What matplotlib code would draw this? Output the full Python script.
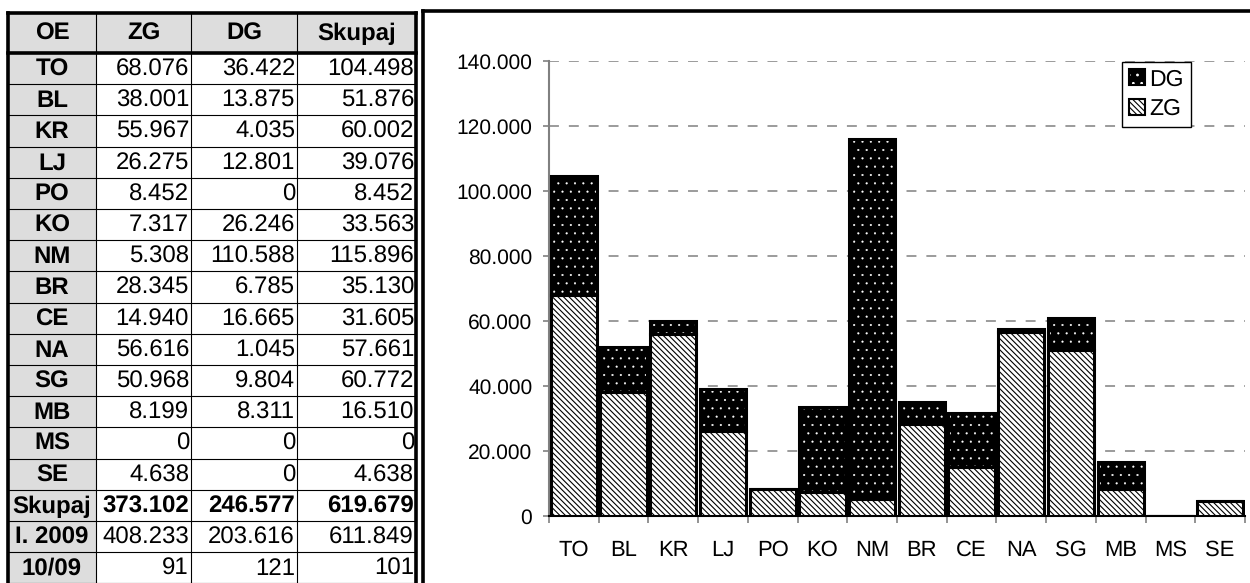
import numpy as np
import matplotlib.pyplot as plt
from matplotlib.patches import Rectangle, Patch
from matplotlib.legend_handler import HandlerTuple

plt.rcParams['font.family'] = ['Liberation Sans', 'DejaVu Sans']
plt.rcParams['hatch.linewidth'] = 0.8
plt.rcParams['text.hinting'] = 'no_hinting'
plt.rcParams['text.hinting_factor'] = 1

# ---------------- data ----------------
oe = ['TO', 'BL', 'KR', 'LJ', 'PO', 'KO', 'NM', 'BR', 'CE', 'NA', 'SG', 'MB', 'MS', 'SE']
zg = [68076, 38001, 55967, 26275, 8452, 7317, 5308, 28345, 14940, 56616, 50968, 8199, 0, 4638]
dg = [36422, 13875, 4035, 12801, 0, 26246, 110588, 6785, 16665, 1045, 9804, 8311, 0, 0]
prev_year = [408233, 203616, 611849]   # I. 2009
header = ['OE', 'ZG', 'DG', 'Skupaj']
yticks = [0, 20000, 40000, 60000, 80000, 100000, 120000, 140000]


def fmt(v):
    return f'{v:,}'.replace(',', '.')


skupaj = [z + d for z, d in zip(zg, dg)]
tot = [sum(zg), sum(dg), sum(skupaj)]
idx = [round(t / p * 100) for t, p in zip(tot, prev_year)]

rows = [[n, fmt(z), fmt(d), fmt(s)] for n, z, d, s in zip(oe, zg, dg, skupaj)]
rows.append(['Skupaj'] + [fmt(t) for t in tot])
rows.append(['I. 2009'] + [fmt(p) for p in prev_year])
rows.append(['10/09'] + [str(i) for i in idx])
bold_rows = [len(oe)]

fig = plt.figure(figsize=(12.5, 5.83), dpi=100)

# ---------------- table (pixel grid) ----------------
tab = fig.add_axes([0, 0, 1, 1])
tab.set_xlim(0, 1250)
tab.set_ylim(583, 0)
tab.axis('off')

col_x = [8, 96, 191, 297, 416]
top, head_h, row_h = 13, 40, 31.2
grey = '#dddddd'
fs_tab = 17.5

tab.add_patch(Rectangle((col_x[0], top), col_x[-1] - col_x[0], head_h, fc=grey, ec='none'))
tab.add_patch(Rectangle((col_x[0], top), col_x[1] - col_x[0], 600, fc=grey, ec='none'))

for j, h in enumerate(header):
    tab.text((col_x[j] + col_x[j + 1]) / 2, top + head_h / 2 + 1, h, ha='center', va='center',
             fontsize=fs_tab, fontweight='bold')

for i, r in enumerate(rows):
    yc = top + head_h + (i + 0.5) * row_h + 1
    wt = 'bold' if i in bold_rows else 'normal'
    tab.text((col_x[0] + col_x[1]) / 2, yc, r[0], ha='center', va='center',
             fontsize=fs_tab, fontweight='bold')
    for j in range(1, 4):
        tab.text(col_x[j + 1] - 2, yc, r[j], ha='right', va='center',
                 fontsize=fs_tab, fontweight=wt)
    yl = top + head_h + (i + 1) * row_h
    tab.plot([col_x[0], col_x[-1]], [yl, yl], color='black', lw=0.8)

for cx in col_x[1:-1]:
    tab.plot([cx, cx], [top, 600], color='black', lw=0.8)

# thick borders
tab.plot([col_x[0], col_x[0]], [top, 600], color='black', lw=2.6)
tab.plot([col_x[-1], col_x[-1]], [top, 600], color='black', lw=2.6)
tab.plot([col_x[0], col_x[-1]], [top, top], color='black', lw=2.6)
tab.plot([col_x[0], col_x[-1]], [top + head_h, top + head_h], color='black', lw=2.6)

# chart panel frame
tab.plot([423, 423], [11, 600], color='black', lw=2.6)
tab.plot([423, 1260], [11, 11], color='black', lw=2.6)

# ---------------- chart ----------------
ax = fig.add_axes([549 / 1250, (583 - 516) / 583, 696 / 1250, 455 / 583])
ax.patch.set_alpha(0)
x = np.arange(len(oe))
w = 0.93
zg_hatch = '\\' * 6

ax.bar(x, zg, w, color='white', edgecolor='black', hatch=zg_hatch, lw=2.2, zorder=3)
dots = ax.bar(x, dg, w, bottom=zg, color='black', edgecolor='white', hatch='..', lw=0, zorder=3)
ax.bar(x, dg, w, bottom=zg, fill=False, edgecolor='black', lw=2.2, zorder=4)
for p in dots:
    if hasattr(p, 'set_hatch_linewidth'):
        p.set_hatch_linewidth(0.3)

ax.set_xlim(-0.5, len(oe) - 0.5)
ax.set_ylim(0, 140000)
ax.set_yticks(yticks)
ax.set_yticklabels([fmt(v) for v in yticks])
ax.set_xticks(x)
ax.set_xticklabels(oe)
ax.set_xticks(np.arange(-0.5, len(oe)), minor=True)

ax.yaxis.grid(True, linestyle=(0, (6.5, 6.5)), color='#808080', lw=1.1)
ax.set_axisbelow(True)

for s in ['top', 'right']:
    ax.spines[s].set_visible(False)
ax.spines['left'].set_color('#808080')
ax.spines['left'].set_linewidth(1.5)
ax.spines['bottom'].set_color('black')
ax.spines['bottom'].set_linewidth(1.5)

ax.tick_params(axis='y', length=4, width=1.2, color='#808080', pad=8, labelsize=15)
ax.tick_params(axis='x', which='major', length=0, pad=17, labelsize=16)
ax.tick_params(axis='x', which='minor', length=5, width=1.2, color='#808080')

h_dg = (Patch(fc='black', ec='white', hatch='..', lw=0), Patch(fill=False, ec='black', lw=1.5))
h_zg = Patch(fc='white', ec='black', hatch=zg_hatch, lw=1.5)
leg = ax.legend([h_dg, h_zg], ['DG', 'ZG'], handler_map={tuple: HandlerTuple(ndivide=1)},
                loc='upper left', bbox_to_anchor=(0.823, 0.998), fontsize=16.5,
                handlelength=0.7, handleheight=0.7, handletextpad=0.2, borderpad=0.3,
                labelspacing=0.35, borderaxespad=0, fancybox=False, framealpha=1)
leg.get_frame().set_edgecolor('black')
leg.get_frame().set_linewidth(1)

fig.savefig('out.png', dpi=100)
